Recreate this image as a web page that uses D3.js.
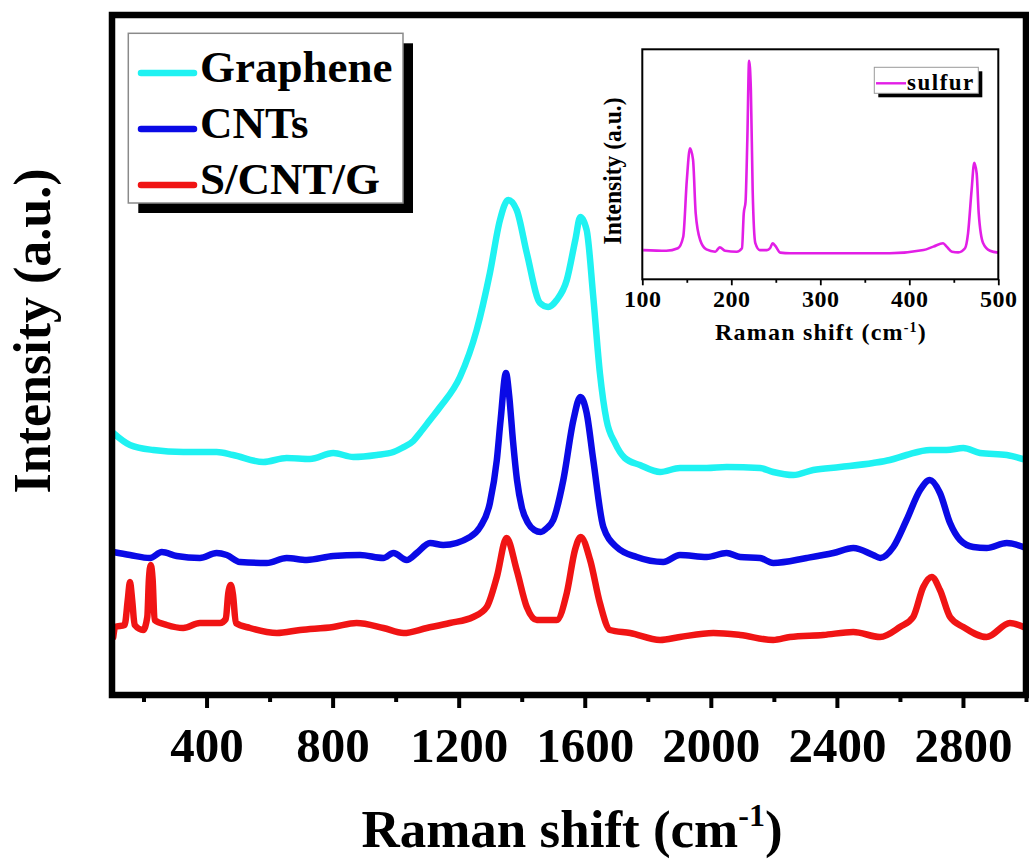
<!DOCTYPE html>
<html>
<head>
<meta charset="utf-8">
<script src="https://cdn.jsdelivr.net/npm/d3@7"></script>
<style>
  html, body { margin: 0; padding: 0; background: #fff; }
  svg { display: block; }
  text { font-family: "Liberation Serif", "Times New Roman", serif; font-weight: bold; fill: #000; }
</style>
</head>
<body>
<svg id="chart" width="1029" height="861"></svg>
<script>
// ---------------- DATA ----------------
const seriesNames = ["Graphene", "CNTs", "S/CNT/G"];
const seriesColors = ["#1ff2f2", "#0a0ae6", "#f01414"];

// [Raman shift (cm-1), intensity (a.u., stacked offset)]
const graphene = [
  [104,262],[157,250],[231,245],[326,243],[432,243],[484,240],[580,233],[654,237],[728,236],
  [802,242],[866,238],[940,240],[993,243],[1020,247],[1056,254],[1077,262],[1109,275],[1141,288],
  [1204,318],[1257,365],[1299,422],[1331,475],[1357,495],[1384,485],[1416,442],[1458,392],
  [1484,388],[1511,395],[1543,415],[1570,455],[1586,478],[1606,465],[1627,398],[1648,322],
  [1669,275],[1696,252],[1727,237],[1775,230],[1839,223],[1902,227],[1987,227],[2050,228],
  [2156,227],[2198,223],[2262,220],[2325,225],[2410,228],[2515,232],[2568,235],[2621,240],
  [2695,245],[2748,245],[2801,247],[2854,242],[2939,240],[3000,235]
];
const cnts = [
  [104,143],[157,140],[221,137],[258,143],[305,139],[379,137],[432,142],[464,140],[506,133],
  [591,132],[654,137],[718,135],[802,139],[887,140],[961,137],[993,142],[1035,135],[1067,142],
  [1109,152],[1151,150],[1236,158],[1268,168],[1299,192],[1321,235],[1333,275],[1350,322],
  [1360,300],[1372,255],[1385,215],[1400,188],[1420,172],[1440,165],[1460,163],[1480,167],[1500,175],
  [1532,215],[1564,275],[1586,298],[1606,282],[1627,235],[1659,168],[1701,148],[1765,138],
  [1849,133],[1902,140],[1987,138],[2050,142],[2093,138],[2156,137],[2198,132],[2304,137],
  [2389,142],[2452,147],[2515,140],[2538,137],[2579,148],[2621,175],[2664,205],[2695,215],
  [2727,202],[2759,172],[2791,155],[2833,148],[2875,147],[2939,152],[3000,147]
];
const scntg = [
  [104,58],[110,68],[140,70],[150,95],[157,113],[164,95],[172,70],[199,65],[212,78],[217,115],
  [223,130],[229,115],[235,75],[274,70],[326,67],[379,72],[443,72],[461,76],[469,102],[477,110],
  [484,100],[493,72],[538,67],[591,63],[623,62],[697,65],[802,68],[876,72],[961,67],[1025,62],
  [1099,67],[1172,72],[1246,78],[1289,88],[1321,118],[1352,157],[1384,125],[1416,88],[1448,75],
  [1479,75],[1511,75],[1543,102],[1569,145],[1587,158],[1617,135],[1648,92],[1680,65],[1744,62],
  [1839,55],[1902,58],[2008,62],[2093,60],[2198,55],[2251,58],[2357,60],[2452,63],[2537,58],
  [2600,68],[2642,78],[2674,108],[2701,118],[2727,105],[2759,78],[2801,68],[2875,58],[2949,72],[3000,67]
];
const mainSeries = [graphene, cnts, scntg];

const xMajorTicks = [400, 800, 1200, 1600, 2000, 2400, 2800];
const xMinorTicks = [200, 600, 1000, 1400, 1800, 2200, 2600, 3000];

// Inset: sulfur
const insetName = "sulfur";
const insetColor = "#e21ee6";
const sulfur = [
  [101,0.127],[127,0.124],[140,0.135],[146,0.185],[150,0.43],[153.6,0.57],[157,0.52],[160,0.287],
  [165,0.171],[172,0.13],[182,0.12],[187,0.139],[193,0.124],[206,0.12],[212,0.135],[214,0.287],
  [216,0.337],[218,0.606],[220,0.95],[222,0.823],[224,0.388],[227,0.157],[232,0.127],[240,0.127],
  [243.5,0.135],[246.5,0.157],[249.5,0.145],[255,0.116],[266,0.113],[378,0.113],[416,0.127],
  [427,0.142],[438,0.157],[442,0.142],[448,0.12],[455,0.117],[462.6,0.135],[466,0.2],[470,0.388],
  [473,0.507],[475.7,0.46],[478,0.287],[483,0.157],[490.7,0.124],[500,0.116]
];
const insetMajorTicks = [100, 200, 300, 400, 500];
const insetMinorTicks = [150, 250, 350, 450];

// ---------------- DRAWING ----------------
const svg = d3.select("#chart");

// main plot geometry
const L = 112, R = 1026, T = 15, B = 695;
const x = d3.scaleLinear().domain([100, 3000]).range([L, R]);
const y = d3.scaleLinear().domain([0, 680]).range([B, T]);

svg.append("defs").append("clipPath").attr("id", "clipMain")
  .append("rect").attr("x", L).attr("y", T).attr("width", R - L).attr("height", B - T);

const lineGen = d3.line().x(d => x(d[0])).y(d => y(d[1])).curve(d3.curveMonotoneX);

const curves = svg.append("g").attr("clip-path", "url(#clipMain)");
mainSeries.forEach((s, i) => {
  curves.append("path")
    .datum(s)
    .attr("d", lineGen)
    .attr("fill", "none")
    .attr("stroke", seriesColors[i])
    .attr("stroke-width", 6.5)
    .attr("stroke-linejoin", "round")
    .attr("stroke-linecap", "round");
});

// x axis ticks
const xAxisMajor = d3.axisBottom(x).tickValues(xMajorTicks).tickSize(13).tickFormat(d3.format("d"));
const gMaj = svg.append("g").attr("transform", `translate(0,${B})`).call(xAxisMajor);
gMaj.select(".domain").remove();
gMaj.selectAll(".tick line").attr("stroke", "#000").attr("stroke-width", 4);
gMaj.selectAll(".tick text").attr("y", 67).attr("dy", 0)
  .style("font-size", "49px").style("font-family", "'Liberation Serif','Times New Roman',serif")
  .style("font-weight", "bold").attr("fill", "#000");

const xAxisMinor = d3.axisBottom(x).tickValues(xMinorTicks).tickSize(7).tickFormat("");
const gMin = svg.append("g").attr("transform", `translate(0,${B})`).call(xAxisMinor);
gMin.select(".domain").remove();
gMin.selectAll(".tick line").attr("stroke", "#000").attr("stroke-width", 4);

// frame
svg.append("rect").attr("x", L).attr("y", T).attr("width", R - L).attr("height", B - T)
  .attr("fill", "none").attr("stroke", "#000").attr("stroke-width", 6.5);

// axis titles
const xt = svg.append("text").attr("x", 572).attr("y", 847).attr("text-anchor", "middle")
  .style("font-size", "53px");
xt.append("tspan").text("Raman shift (cm");
xt.append("tspan").attr("dy", -21).style("font-size", "32px").text("-1");
xt.append("tspan").attr("dy", 21).text(")");

svg.append("text").attr("transform", "translate(50,331) rotate(-90)")
  .attr("text-anchor", "middle").style("font-size", "52px").text("Intensity (a.u.)");

// legend
const lg = svg.append("g");
lg.append("rect").attr("x", 138.3).attr("y", 43.3).attr("width", 274.7).attr("height", 169.7).attr("fill", "#000");
lg.append("rect").attr("x", 128.3).attr("y", 33.3).attr("width", 274.7).attr("height", 169.7)
  .attr("fill", "#fff").attr("stroke", "#8a8a8a").attr("stroke-width", 1.5);
const legY = [73, 129, 185];
seriesNames.forEach((n, i) => {
  lg.append("line").attr("x1", 141).attr("x2", 194).attr("y1", legY[i]).attr("y2", legY[i])
    .attr("stroke", seriesColors[i]).attr("stroke-width", 6.5).attr("stroke-linecap", "round");
  lg.append("text").attr("x", 200).attr("y", legY[i] + 9).style("font-size", "45px").text(n);
});

// ---------------- INSET ----------------
const iL = 642.3, iR = 998.3, iT = 49.3, iB = 279.3;
const ix = d3.scaleLinear().domain([100, 500]).range([iL, iR]);
const iy = d3.scaleLinear().domain([0, 1]).range([iB, iT]);

svg.append("rect").attr("x", iL).attr("y", iT).attr("width", iR - iL).attr("height", iB - iT)
  .attr("fill", "#fff");

const iLine = d3.line().x(d => ix(d[0])).y(d => iy(d[1])).curve(d3.curveMonotoneX);
svg.append("path").datum(sulfur).attr("d", iLine).attr("fill", "none")
  .attr("stroke", insetColor).attr("stroke-width", 2.6).attr("stroke-linejoin", "round");

const iMaj = svg.append("g").attr("transform", `translate(0,${iB})`)
  .call(d3.axisBottom(ix).tickValues(insetMajorTicks).tickSize(6).tickFormat(d3.format("d")));
iMaj.select(".domain").remove();
iMaj.selectAll(".tick line").attr("stroke", "#000").attr("stroke-width", 1.8);
iMaj.selectAll(".tick text").attr("y", 28).attr("dy", 0)
  .style("font-size", "24px").style("letter-spacing", "0.6px")
  .style("font-family", "'Liberation Serif','Times New Roman',serif").style("font-weight", "bold")
  .attr("fill", "#000");
const iMin = svg.append("g").attr("transform", `translate(0,${iB})`)
  .call(d3.axisBottom(ix).tickValues(insetMinorTicks).tickSize(3.5).tickFormat(""));
iMin.select(".domain").remove();
iMin.selectAll(".tick line").attr("stroke", "#000").attr("stroke-width", 1.8);

svg.append("rect").attr("x", iL).attr("y", iT).attr("width", iR - iL).attr("height", iB - iT)
  .attr("fill", "none").attr("stroke", "#000").attr("stroke-width", 2);

const ixt = svg.append("text").attr("x", 821).attr("y", 340).attr("text-anchor", "middle")
  .style("font-size", "24px").style("letter-spacing", "1.2px");
ixt.append("tspan").text("Raman shift (cm");
ixt.append("tspan").attr("dy", -8).style("font-size", "14px").text("-1");
ixt.append("tspan").attr("dy", 8).text(")");

svg.append("text").attr("transform", "translate(621,171) rotate(-90)")
  .attr("text-anchor", "middle").style("font-size", "25px")
  .attr("textLength", 147).attr("lengthAdjust", "spacingAndGlyphs").text("Intensity (a.u.)");

// inset legend
const il = svg.append("g");
il.append("rect").attr("x", 878.3).attr("y", 71.3).attr("width", 104).attr("height", 26).attr("fill", "#000");
il.append("rect").attr("x", 874.3).attr("y", 67.3).attr("width", 104).attr("height", 26)
  .attr("fill", "#fff").attr("stroke", "#9a9a9a").attr("stroke-width", 1);
il.append("line").attr("x1", 876).attr("x2", 906).attr("y1", 83.3).attr("y2", 83.3)
  .attr("stroke", insetColor).attr("stroke-width", 2.4);
il.append("text").attr("x", 907).attr("y", 89.5).style("font-size", "23px")
  .style("letter-spacing", "1.5px").text(insetName);
</script>
</body>
</html>
